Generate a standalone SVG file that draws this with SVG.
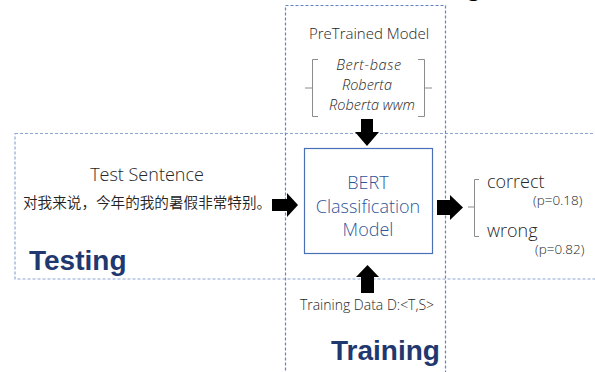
<svg xmlns="http://www.w3.org/2000/svg" width="595" height="372" viewBox="0 0 595 372">
  <style>
    .frame { fill: none; stroke: #8ea6d4; stroke-width: 1.2; stroke-dasharray: 3 2; }
    .frame-dark { fill: none; stroke: #6282c0; stroke-width: 1.2; stroke-dasharray: 3 2; }
    .brace { fill: none; stroke: #8c8c8c; stroke-width: 1; }
    .txt { font-family: "Open Sans", "Noto Sans", sans-serif; font-weight: 350; fill: #262626; }
    .it { font-family: "Open Sans", "Noto Sans", sans-serif; font-weight: 350; font-style: italic; fill: #262626; font-size: 14.5px; text-anchor: middle; }
    .title { font-family: "Liberation Sans", Arial, sans-serif; font-weight: bold; fill: #1f3870; font-size: 28px; }
    .model { font-family: "Open Sans", "Noto Sans", sans-serif; font-weight: 350; fill: #2f5597; font-size: 18px; text-anchor: middle; }
    .cjk { font-family: "Noto Sans CJK SC", sans-serif; font-weight: 350; fill: #222; font-size: 14.6px; }
    .arrow { fill: #000; }
  </style>

  <!-- cut-off heading glyph at the top edge -->
  <text x="467" y="-4" font-family="Liberation Serif, serif" font-size="26" fill="#000">g</text>

  <!-- Testing region -->
  <g id="testing-region">
    <rect class="frame" x="15" y="133.5" width="590" height="145.5"/>
    <text class="title" x="29" y="270">Testing</text>
  </g>

  <!-- Training region -->
  <g id="training-region">
    <rect class="frame-dark" x="285.5" y="5.5" width="160" height="380"/>
    <text class="title" x="331" y="360">Training</text>
  </g>

  <!-- Pretrained model choices -->
  <g id="pretrained">
    <text class="txt" x="369" y="39" font-size="15" text-anchor="middle">PreTrained Model</text>
    <path class="brace" d="M318,59.5 H312.5 V88 H305 M312.5,88 V116.5 H318"/>
    <path class="brace" d="M418,59.5 H424.5 V88 H432 M424.5,88 V116.5 H418"/>
    <text class="it" x="369" y="70" letter-spacing="0.6">Bert-base</text>
    <text class="it" x="367" y="90">Roberta</text>
    <text class="it" x="372" y="110">Roberta wwm</text>
  </g>

  <!-- Test sentence input -->
  <g id="test-sentence">
    <text class="txt" x="147" y="181" font-size="18" text-anchor="middle">Test Sentence</text>
    <text class="cjk" x="23" y="208">对我来说，今年的我的暑假非常特别。</text>
  </g>

  <!-- Classifier -->
  <g id="bert-model">
    <rect x="304.5" y="148.5" width="128" height="105" fill="#fff" stroke="#4a6fb5" stroke-width="1.2"/>
    <text class="model" x="368" y="189">BERT</text>
    <text class="model" x="368" y="213">Classification</text>
    <text class="model" x="368" y="236">Model</text>
  </g>

  <!-- Training data -->
  <g id="training-data">
    <text class="txt" x="367" y="310" font-size="14" text-anchor="middle">Training Data D:&lt;T,S&gt;</text>
  </g>

  <!-- Outputs -->
  <g id="outputs">
    <path class="brace" d="M479,179.5 H474.5 V207 H468 M474.5,207 V236.5 H479"/>
    <text class="txt" x="487" y="188" font-size="18">correct</text>
    <text class="txt" x="533" y="205" font-size="13.5">(p=0.18)</text>
    <text class="txt" x="487" y="237" font-size="18">wrong</text>
    <text class="txt" x="535" y="254" font-size="13.5">(p=0.82)</text>
  </g>

  <!-- Block arrows -->
  <g id="connectors">
    <path class="arrow" d="M361,119 H373 V132 H379 L367,146 L355,132 H361 Z"/>
    <path class="arrow" d="M361,293 H374 V277 H379 L367.5,265 L356,277 H361 Z"/>
    <path class="arrow" d="M272,199 H287 V193 L298,205 L287,217 V211 H272 Z"/>
    <path class="arrow" d="M437,200 H450 V195 L463,207.5 L450,220 V215 H437 Z"/>
  </g>
</svg>
